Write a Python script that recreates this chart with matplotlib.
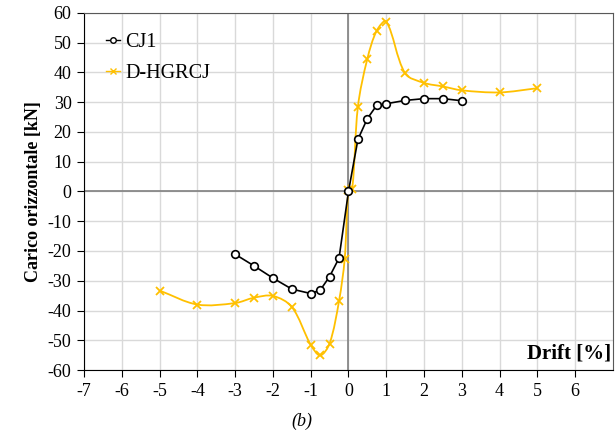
import numpy as np
import matplotlib.pyplot as plt
from matplotlib.path import Path
from matplotlib.patches import PathPatch

# --- データ ---
cj1_x = [-3, -2.5, -2, -1.5, -1, -0.75, -0.5, -0.25, 0, 0.25, 0.5, 0.75, 1, 1.5, 2, 2.5, 3]
cj1_y = [-21.1, -25.0, -29.1, -32.8, -34.3, -33.2, -28.6, -22.4, 0.0, 17.5, 24.5, 29.0, 29.5, 30.6, 31.2, 31.2, 30.5]

hg_x = [-5, -4, -3, -2.5, -2, -1.5, -1, -0.75, -0.5, -0.25, -0.1, 0, 0.1,
        0.25, 0.5, 0.75, 1, 1.5, 2, 2.5, 3, 4, 5]
hg_y = [-33.3, -38.0, -37.5, -35.7, -35.1, -38.8, -51.5, -55.1, -51.1, -36.8, -22.6, 0.4, 1.0,
        28.5, 44.6, 54.1, 57.1, 39.7, 36.5, 35.3, 34.0, 33.3, 34.7]

x_ticks = list(range(-7, 7))
y_ticks = list(range(-60, 61, 10))

plt.rcParams['font.family'] = ['Liberation Serif', 'DejaVu Serif']
plt.rcParams['axes.unicode_minus'] = False


def smooth_path(xs, ys, sx=37.8, sy=2.975):
    # Excel風の平滑線（弦長で重み付けしたベジェ）
    p = np.column_stack([xs, ys]).astype(float)
    q = p * [sx, sy]
    d = np.hypot(*np.diff(q, axis=0).T)
    n = len(p)
    verts = [p[0]]
    codes = [Path.MOVETO]
    for i in range(n - 1):
        if i > 0:
            t1 = (p[i + 1] - p[i - 1]) * d[i] / (d[i - 1] + d[i])
        else:
            t1 = p[i + 1] - p[i]
        if i + 2 < n:
            t2 = (p[i + 2] - p[i]) * d[i] / (d[i] + d[i + 1])
        else:
            t2 = p[i + 1] - p[i]
        c1 = p[i] + t1 / 3
        c2 = p[i + 1] - t2 / 3
        verts += [c1, c2, p[i + 1]]
        codes += [Path.CURVE4] * 3
    return Path(verts, codes)


fig = plt.figure(figsize=(6.16, 4.32), dpi=100)
ax = fig.add_axes([0.1364, 0.1435, 0.8586, 0.8265])

ax.set_xlim(-7, 7)
ax.set_ylim(-60, 60)
ax.set_xticks(x_ticks)
ax.set_yticks(y_ticks)
ax.grid(True, color='#d9d9d9', linewidth=1)
ax.set_axisbelow(True)
ax.axhline(0, color='#7f7f7f', linewidth=1.2, zorder=1)
ax.axvline(0, color='#7f7f7f', linewidth=1.2, zorder=1)

yellow = '#ffc000'
ax.add_patch(PathPatch(smooth_path(hg_x, hg_y), fill=False, edgecolor=yellow, linewidth=1.3, zorder=2))
ax.plot(hg_x, hg_y, linestyle='none', marker='x', color=yellow, markersize=6, markeredgewidth=1.3, zorder=3)
ax.plot(cj1_x, cj1_y, color='black', linewidth=1.2, marker='o', markersize=5.5,
        markerfacecolor='white', markeredgecolor='black', markeredgewidth=1.2, zorder=4)

# 凡例用のダミー
h1, = ax.plot([], [], color='black', linewidth=1.0, marker='o', markersize=4,
              markerfacecolor='white', markeredgecolor='black')
h2, = ax.plot([], [], color=yellow, linewidth=1.0, marker='x', markersize=4.5, markeredgewidth=1.0)
ax.legend([h1, h2], ['CJ1', 'D-HGRCJ'], loc='upper left', bbox_to_anchor=(0.008, 0.995),
          frameon=False, fontsize=14.5, handlelength=0.7, handletextpad=0.25, labelspacing=0.6)

for s in ['top', 'right']:
    ax.spines[s].set_color('#595959')
for s in ['left', 'bottom']:
    ax.spines[s].set_color('black')
ax.tick_params(direction='out', length=5, labelsize=13, pad=4)

ax.set_ylabel('Carico orizzontale [kN]', fontsize=13, fontweight='bold', labelpad=4)
ax.text(0.997, 0.045, 'Drift [%]', transform=ax.transAxes, ha='right', va='center',
        fontsize=15, fontweight='bold')
fig.text(0.49, 0.025, '(b)', ha='center', va='center', fontsize=13, style='italic')

fig.savefig('out.png', dpi=100)
